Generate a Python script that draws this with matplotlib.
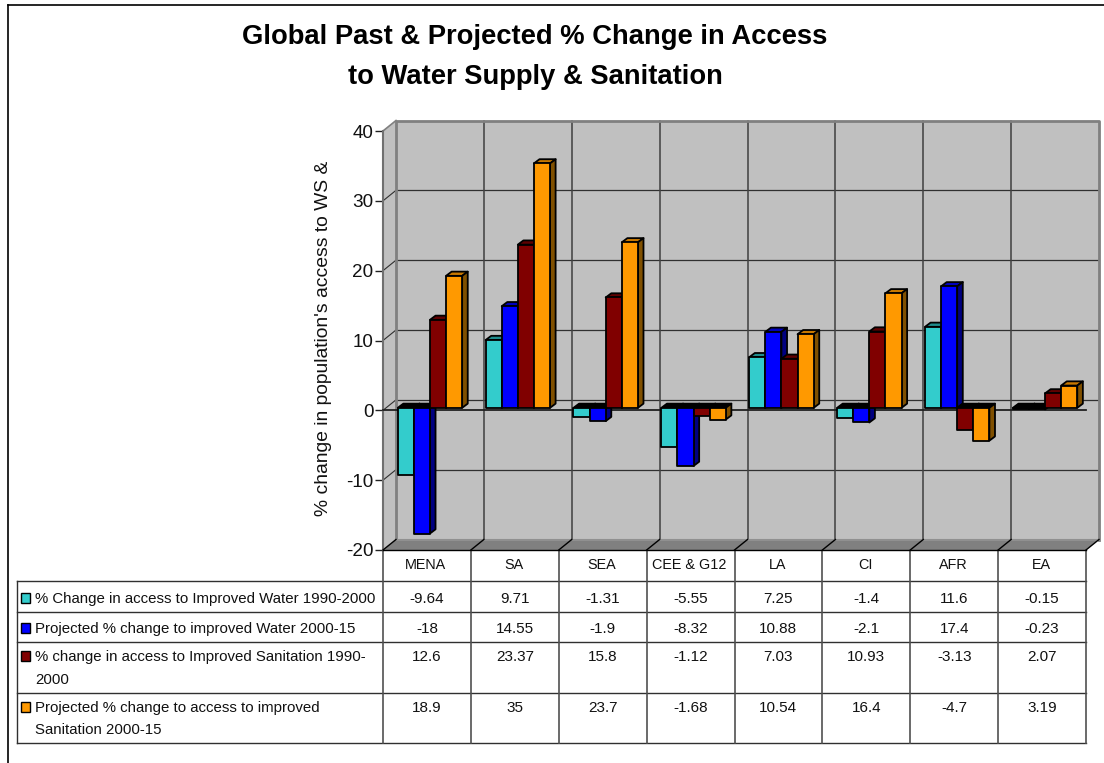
import matplotlib
matplotlib.use('Agg')
import matplotlib.pyplot as plt
from matplotlib.patches import Polygon, Rectangle

plt.rcParams['font.family'] = ['Liberation Sans', 'DejaVu Sans']
plt.rcParams['axes.unicode_minus'] = False

# Data (same numbers as the table under the chart)
categories = ['MENA', 'SA', 'SEA', 'CEE & G12', 'LA', 'CI', 'AFR', 'EA']
water_past = [-9.64, 9.71, -1.31, -5.55, 7.25, -1.4, 11.6, -0.15]
water_proj = [-18, 14.55, -1.9, -8.32, 10.88, -2.1, 17.4, -0.23]
sanit_past = [12.6, 23.37, 15.8, -1.12, 7.03, 10.93, -3.13, 2.07]
sanit_proj = [18.9, 35, 23.7, -1.68, 10.54, 16.4, -4.7, 3.19]

series = [water_past, water_proj, sanit_past, sanit_proj]
series_labels = [['% Change in access to Improved Water 1990-2000'],
                 ['Projected % change to improved Water 2000-15'],
                 ['% change in access to Improved Sanitation 1990-', '2000'],
                 ['Projected % change to access to improved', 'Sanitation 2000-15']]
value_text = [['-9.64', '9.71', '-1.31', '-5.55', '7.25', '-1.4', '11.6', '-0.15'],
              ['-18', '14.55', '-1.9', '-8.32', '10.88', '-2.1', '17.4', '-0.23'],
              ['12.6', '23.37', '15.8', '-1.12', '7.03', '10.93', '-3.13', '2.07'],
              ['18.9', '35', '23.7', '-1.68', '10.54', '16.4', '-4.7', '3.19']]

# front, top, side colours per series
front_cols = ['#33CCCC', '#0000FF', '#800000', '#FF9900']
top_cols = ['#1F8C8C', '#0000C0', '#600000', '#C87800']
side_cols = ['#1A6666', '#000080', '#400000', '#805000']

W, H = 1104, 763
fig = plt.figure(figsize=(W / 100, H / 100), dpi=100, facecolor='white')

# Overlay in pixel coordinates for frame, table and title
bg = fig.add_axes([0, 0, 1, 1], zorder=0)
bg.set_xlim(0, W)
bg.set_ylim(H, 0)
bg.axis('off')

# Chart front plane: 383-1086 px across, 131-550 px down
x0, x1, y0, y1 = 383, 1086, 131, 550
ax = fig.add_axes([x0 / W, 1 - y1 / H, (x1 - x0) / W, (y1 - y0) / H], zorder=1)
ax.patch.set_alpha(0)
ax.set_xlim(0, len(categories))
ax.set_ylim(-20, 40)
for spine in ax.spines.values():
    spine.set_visible(False)
ax.set_xticks([])
ax.set_yticks(range(-20, 41, 10))
ax.tick_params(axis='y', length=5.5, width=1, color='#202020', pad=1.5, labelsize=13.6, labelcolor='#111111')
ax.set_ylabel("% change in population's access to WS &", fontsize=13.9, color='#111111')
ax.yaxis.set_label_coords(-0.073, 0.506)

# Depth of the fake 3D box, in data units
dep_x = 13 / ((x1 - x0) / len(categories))
dep_y = 10.5 / ((y1 - y0) / 60)
n = len(categories)

# Left wall, back wall, floor
ax.add_patch(Polygon([(0, -20), (dep_x, -20 + dep_y), (dep_x, 40 + dep_y), (0, 40)],
                     fc='#C0C0C0', ec='none', zorder=1, clip_on=False))
ax.add_patch(Rectangle((dep_x, -20 + dep_y), n, 60, fc='#C0C0C0', ec='none', zorder=1, clip_on=False))
ax.add_patch(Polygon([(0, -20), (dep_x, -20 + dep_y), (n + dep_x, -20 + dep_y), (n, -20)],
                     fc='#808080', ec='none', zorder=2, clip_on=False))

# Grid on the back wall
for v in range(-10, 40, 10):
    ax.plot([dep_x, n + dep_x], [v + dep_y, v + dep_y], color='#303030', lw=0.9, zorder=2, clip_on=False)
    ax.plot([0, dep_x], [v, v + dep_y], color='#303030', lw=0.8, zorder=2, clip_on=False)
for i in range(1, n):
    ax.plot([i + dep_x, i + dep_x], [-20 + dep_y, 40 + dep_y], color='#404040', lw=1.1, zorder=2, clip_on=False)
for i in range(0, n + 1):
    ax.plot([i, i + dep_x], [-20, -20 + dep_y], color='black', lw=1, zorder=3, clip_on=False)
# Wall edges
ax.plot([dep_x, dep_x, n + dep_x, n + dep_x], [-20 + dep_y, 40 + dep_y, 40 + dep_y, -20 + dep_y],
        color='#808080', lw=2, zorder=2, clip_on=False)
ax.plot([dep_x, n + dep_x], [-20 + dep_y, -20 + dep_y], color='#909090', lw=1.5, zorder=2, clip_on=False)
ax.plot([0, dep_x], [40, 40 + dep_y], color='#808080', lw=1.2, zorder=2, clip_on=False)
ax.plot([0, 0], [-20, 40], color='#707070', lw=1.5, zorder=2, clip_on=False)
ax.plot([0, n], [-20, -20], color='black', lw=1, zorder=3, clip_on=False)
# Zero plane, front edge
ax.plot([0, n], [0, 0], color='#202020', lw=1.3, zorder=3, clip_on=False)

# Bars sit part way into the box
bar_w = 16.1 / ((x1 - x0) / len(categories))
bar_dx = 5.6 / ((x1 - x0) / len(categories))
bar_dy = 4.2 / ((y1 - y0) / 60)
off_x = 3 / ((x1 - x0) / len(categories))
off_y = 2.5 / ((y1 - y0) / 60)
edge = dict(ec='black', lw=1.3, joinstyle='round', clip_on=False)

z = 4
for c in range(n):
    for s, vals in enumerate(series):
        v = vals[c]
        left = c + 0.5 - 2 * bar_w + off_x + s * bar_w
        right = left + bar_w
        base = off_y
        topv = v + off_y
        high = max(base, topv)
        low = min(base, topv)
        # top face, black on the negative bars
        top_col = 'black' if v < 0 else top_cols[s]
        top_poly = [(left, high), (left + bar_dx, high + bar_dy), (right + bar_dx, high + bar_dy), (right, high)]
        ax.add_patch(Polygon(top_poly, fc=top_col, zorder=z, **edge))
        ax.add_patch(Polygon([(right, low), (right + bar_dx, low + bar_dy), (right + bar_dx, high + bar_dy), (right, high)],
                             fc=side_cols[s], zorder=z, **edge))
        ax.add_patch(Rectangle((left, low), bar_w, high - low, fc=front_cols[s], zorder=z + 1, **edge))
        z += 2

# Outer frame (page border)
bg.plot([8, 8], [H, 5], color='black', lw=1.2)
bg.plot([8, W], [5, 5], color='black', lw=1.2)

# Title
bg.text(535, 37, 'Global Past & Projected % Change in Access', ha='center', va='center',
        fontsize=19.7, fontweight='bold', color='black')
bg.text(535, 77, 'to Water Supply & Sanitation', ha='center', va='center',
        fontsize=19.7, fontweight='bold', color='black')

# Data table below the chart
cell_w = (x1 - x0) / n
rows_y = [581, 612, 641.5, 693, 743]
tbl_left = 17
for ry in rows_y:
    bg.plot([tbl_left, x1], [ry, ry], color='#303030', lw=1)
bg.plot([tbl_left, tbl_left], [rows_y[0], rows_y[-1]], color='#303030', lw=1)
for i in range(n + 1):
    bg.plot([x0 + i * cell_w] * 2, [y1, rows_y[-1]], color='#505050', lw=1.2)
for i, name in enumerate(categories):
    bg.text(x0 + (i + 0.5) * cell_w - 1, 565, name, ha='center', va='center', fontsize=10.4, color='#111111')

row_text_y = [599, 629, 657, 708]
for r, lines in enumerate(series_labels):
    ty = row_text_y[r]
    bg.add_patch(Rectangle((21, ty - 6), 9, 9.5, fc=front_cols[r], ec='black', lw=1))
    for k, line in enumerate(lines):
        bg.text(35, ty + k * 22.5, line, ha='left', va='center', fontsize=10.8, color='#111111')
    for i, txt in enumerate(value_text[r]):
        bg.text(x0 + (i + 0.5) * cell_w, ty, txt, ha='center', va='center', fontsize=11, color='#111111')

fig.savefig('out.png', dpi=100, facecolor='white')
